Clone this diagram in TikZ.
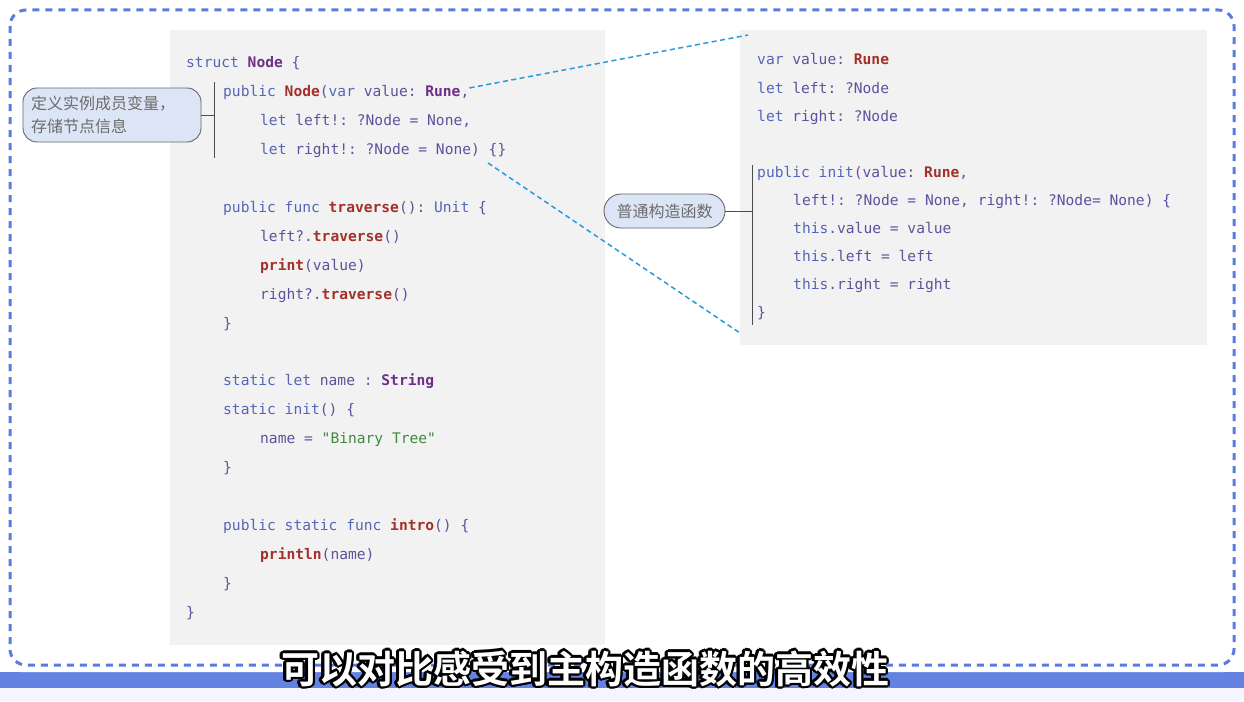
\documentclass[tikz,border=0pt]{standalone}
\usepackage{fontspec}
\setmonofont{DejaVu Sans Mono}
\newfontfamily\cjk{Noto Sans CJK SC}
\newfontfamily\cjkb{Noto Sans CJK SC Bold}
\usepackage[copies]{contour}
\contourlength{2.4pt}
\definecolor{kw}{HTML}{5566B8}
\definecolor{ty}{HTML}{6E2F86}
\definecolor{fn}{HTML}{A3312B}
\definecolor{tx}{HTML}{62509E}
\definecolor{st}{HTML}{3E8A3E}
\definecolor{bord}{HTML}{5B7BE0}
\definecolor{conn}{HTML}{2A9AE0}
\definecolor{bub}{HTML}{DCE5F6}
\newcommand{\kw}[1]{\textcolor{kw}{#1}}
\newcommand{\ty}[1]{\textcolor{ty}{\bfseries #1}}
\newcommand{\fn}[1]{\textcolor{fn}{\bfseries #1}}
\newcommand{\str}[1]{\textcolor{st}{#1}}
\begin{document}
\begin{tikzpicture}[x=1pt,y=-1pt,
  code/.style={anchor=base west,inner sep=0pt,font=\ttfamily\fontsize{14.6}{16}\selectfont,text=tx},
  bubble/.style={draw=gray!80!black,fill=bub,rounded corners=14pt,line width=0.9pt,font=\cjk\fontsize{16}{23}\selectfont,text=gray!85!black,align=left,inner sep=0pt},
  brk/.style={draw=gray!60!black,line width=1pt},
  conn/.style={draw=conn,dash pattern=on 5pt off 3.5pt,line width=1.5pt}]
\useasboundingbox (0,0) rectangle (1244,701);
\fill[white] (0,0) rectangle (1244,701);
\fill[blue!4!white] (0,686) rectangle (1244,701);
\fill[bord!95!white] (0,672) rectangle (1244,688);
\fill[white,rounded corners=18pt] (2,2) rectangle (1242,672);
\draw[bord,line width=3pt,dash pattern=on 7pt off 6pt,rounded corners=16pt] (10,10) rectangle (1234,665);
\fill[gray!10] (170,30) rectangle (605,645);
\fill[gray!10] (740,30) rectangle (1207,345);
% left code
\node[code] (l1) at (186,67) {\kw{struct} \ty{Node} \{};
\node[code] (l2) at (223,96) {\kw{public} \fn{Node}(\kw{var} value: \ty{Rune},};
\node[code] (l3) at (260,125) {\kw{let} left!: ?Node = None,};
\node[code] (l4) at (260,154) {\kw{let} right!: ?Node = None) \{\}};
\node[code] (l5) at (223,212) {\kw{public} \kw{func} \fn{traverse}(): \kw{Unit} \{};
\node[code] (l6) at (260,241) {left?.\fn{traverse}()};
\node[code] (l7) at (260,270) {\fn{print}(value)};
\node[code] (l8) at (260,299) {right?.\fn{traverse}()};
\node[code] (l9) at (223,328) {\}};
\node[code] (l10) at (223,385) {\kw{static} \kw{let} name : \ty{String}};
\node[code] (l11) at (223,414) {\kw{static} \kw{init}() \{};
\node[code] (l12) at (260,443) {name = \str{"Binary Tree"}};
\node[code] (l13) at (223,472) {\}};
\node[code] (l14) at (223,530) {\kw{public} \kw{static} \kw{func} \fn{intro}() \{};
\node[code] (l15) at (260,559) {\fn{println}(name)};
\node[code] (l16) at (223,588) {\}};
\node[code] (l17) at (186,617) {\}};
% right code
\node[code] (r1) at (757,65) {\kw{var} value: \fn{Rune}};
\node[code] (r2) at (757,93) {\kw{let} left: ?Node};
\node[code] (r3) at (757,121) {\kw{let} right: ?Node};
\node[code] (r4) at (757,177) {\kw{public} \kw{init}(value: \fn{Rune},};
\node[code] (r5) at (793,205) {left!: ?Node = None, right!: ?Node= None) \{};
\node[code] (r6) at (793,233) {\kw{this}.value = value};
\node[code] (r7) at (793,261) {\kw{this}.left = left};
\node[code] (r8) at (793,289) {\kw{this}.right = right};
\node[code] (r9) at (757,317) {\}};
% callouts
\node[bubble,minimum width=178pt,minimum height=54pt,text width=162pt] (b1) at (112,115) {定义实例成员变量，\\存储节点信息};
\draw[brk] (214,82) -- (214,158);
\draw[brk] (b1.east) -- (214,115);
\node[bubble,minimum width=121pt,minimum height=34pt,rounded corners=17pt] (b2) at (664.5,211) {普通构造函数};
\draw[brk] (752,165) -- (752,325);
\draw[brk] (b2.east) -- (752,211);
% connectors
\coordinate (c1) at (748,35);
\coordinate (c2) at (740,333);
\draw[conn] (l2.east) ++(0,-4) -- (c1);
\draw[conn] (488,163) -- (c2);
% subtitle
\node[inner sep=0pt,font=\cjkb\fontsize{38}{42}\selectfont,text=white] (sub) at (585,670) {\contour{black}{可以对比感受到主构造函数的高效性}};
\end{tikzpicture}
\end{document}
